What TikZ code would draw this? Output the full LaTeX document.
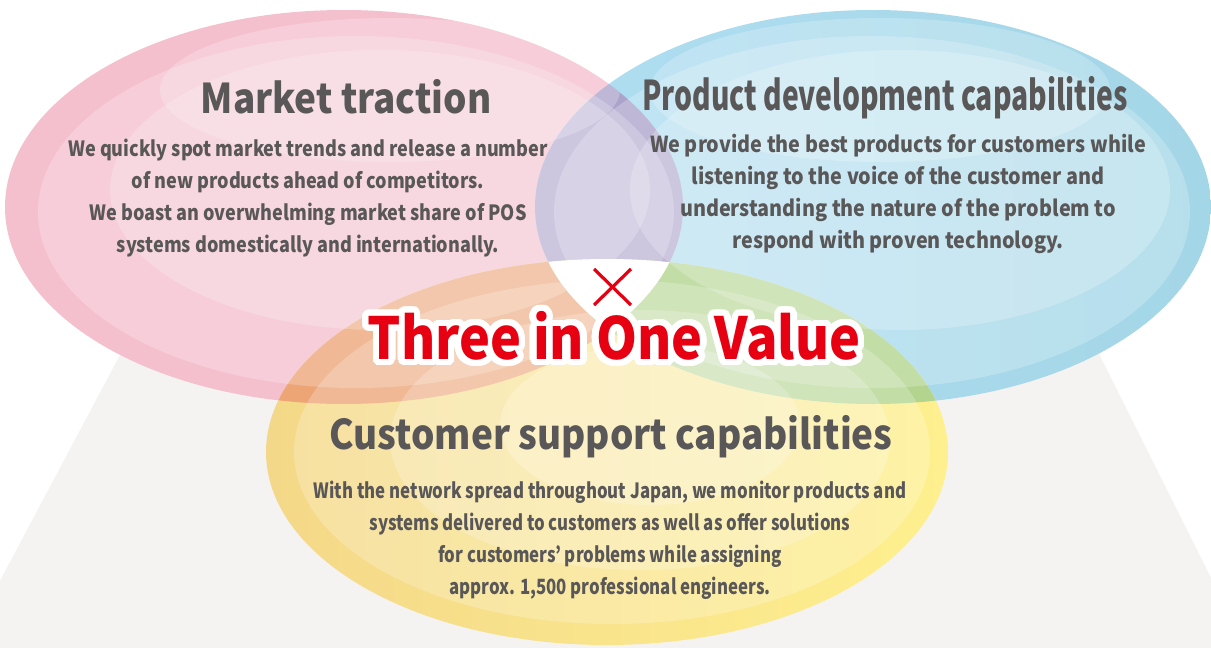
\documentclass[tikz,border=0pt]{standalone}
\usepackage{fontspec}
\usepackage{contour}
\usepackage{tikz}
\usetikzlibrary{positioning, calc}
\newfontfamily\diagfont{Noto Sans CJK JP}[FakeStretch=0.9]
\newfontfamily\narrowfont{Noto Sans CJK JP}[FakeStretch=0.69]
\newfontfamily\pinkfont{Noto Sans CJK JP}[FakeStretch=0.86]
\newfontfamily\yellowfont{Noto Sans CJK JP}[FakeStretch=0.8]
\contourlength{3.2pt}
\contournumber{40}
\definecolor{txtgray}{HTML}{595757}
\definecolor{valred}{HTML}{E60012}
\definecolor{pinkbase}{HTML}{F4C0CE}
\definecolor{bluebase}{HTML}{A3D6E6}
\definecolor{bluelight}{HTML}{B0DEF2}
\definecolor{yellowbase}{HTML}{F4D889}
\definecolor{yellowlight}{HTML}{FEF08E}
\definecolor{purplemix}{HTML}{ACA3CB}
\definecolor{orangemix}{HTML}{EDA576}
\definecolor{greenmix}{HTML}{B2D48E}
\definecolor{floorgray}{HTML}{F4F3F2}
\tikzstyle{head}=[font=\diagfont\bfseries\fontsize{20.5}{24}\selectfont, text=txtgray]
\tikzstyle{headnarrow}=[font=\narrowfont\bfseries\fontsize{20.5}{24}\selectfont, text=txtgray]
\tikzstyle{blurb}=[font=\diagfont\bfseries\fontsize{11}{16}\selectfont, text=txtgray, align=center]
\tikzstyle{sheen}=[white, fill opacity=0.22]
\tikzstyle{cross}=[valred, line width=1.6pt]
\def\pinkpath{(344,207) ellipse [x radius=339, y radius=197]}
\def\bluepath{(873,207) ellipse [x radius=338, y radius=197]}
\def\yellowpath{(607,452) ellipse [x radius=341, y radius=193]}

\begin{document}
\begin{tikzpicture}[x=0.5pt, y=-0.5pt]
    \useasboundingbox (0,0) rectangle (1211,648);
    \fill[white] (0,0) rectangle (1211,648);

    % floor
    \fill[floorgray] (128,340) -- (1092,340) -- (1250,656) -- (-40,656) -- cycle;

    \fill[pinkbase] \pinkpath;
    \shade[left color=bluelight, right color=bluebase] \bluepath;
    \shade[left color=yellowbase, right color=yellowlight] \yellowpath;

    \begin{scope}
      \clip \pinkpath;
      \fill[purplemix] \bluepath;
      \fill[orangemix] \yellowpath;
    \end{scope}
    \begin{scope}
      \clip \bluepath;
      \fill[greenmix] \yellowpath;
    \end{scope}
    \begin{scope}
      \clip \pinkpath;
      \clip \bluepath;
      \fill[white] \yellowpath;
    \end{scope}

    % light rings
    \begin{scope}
      \clip \pinkpath;
      \fill[sheen] (356,212) ellipse [x radius=318, y radius=176];
      \fill[sheen] (380,190) ellipse [x radius=270, y radius=140];
      \fill[sheen] (390,90) ellipse [x radius=230, y radius=72];
    \end{scope}
    \begin{scope}
      \clip \bluepath;
      \fill[sheen] (872,212) ellipse [x radius=318, y radius=176];
      \fill[sheen] (900,190) ellipse [x radius=270, y radius=140];
      \fill[sheen] (880,90) ellipse [x radius=230, y radius=72];
    \end{scope}
    \begin{scope}
      \clip \yellowpath;
      \fill[sheen] (612,452) ellipse [x radius=318, y radius=172];
      \fill[sheen] (640,440) ellipse [x radius=250, y radius=130];
      \fill[sheen] (650,425) ellipse [x radius=150, y radius=80];
    \end{scope}

    \node[head] (mkt-head) at (346,97) {Market traction};
    \node[blurb, font=\pinkfont\bfseries\fontsize{10.5}{16}\selectfont] (mkt-text) at (308,198) {We quickly spot market trends and release a number\\
      of new products ahead of competitors.\\
      We boast an overwhelming market share of POS\\
      systems domestically and internationally.};

    \node[headnarrow] (dev-head) at (885,98) {Product development capabilities};
    \node[blurb] (dev-text) at (898,194) {We provide the best products for customers while\\
      listening to the voice of the customer and\\
      understanding the nature of the problem to\\
      respond with proven technology.};

    \node[head] (sup-head) at (611,437) {Customer support capabilities};
    \node[blurb, font=\yellowfont\bfseries\fontsize{10.5}{16}\selectfont] (sup-text) at (610,540) {With the network spread throughout Japan, we monitor products and\\
      systems delivered to customers as well as offer solutions\\
      for customers’ problems while assigning\\
      approx. 1,500 professional engineers.};

    \coordinate (x-nw) at (594,269);
    \coordinate (x-se) at (631,305);
    \coordinate (x-ne) at (631,269);
    \coordinate (x-sw) at (594,305);
    \draw[cross] (x-nw) -- (x-se);
    \draw[cross] (x-ne) -- (x-sw);

    \node[font=\diagfont\bfseries\fontsize{29}{34}\selectfont, text=valred] (value) at (614,339) {\contour{white}{Three in One Value}};
\end{tikzpicture}
\end{document}
